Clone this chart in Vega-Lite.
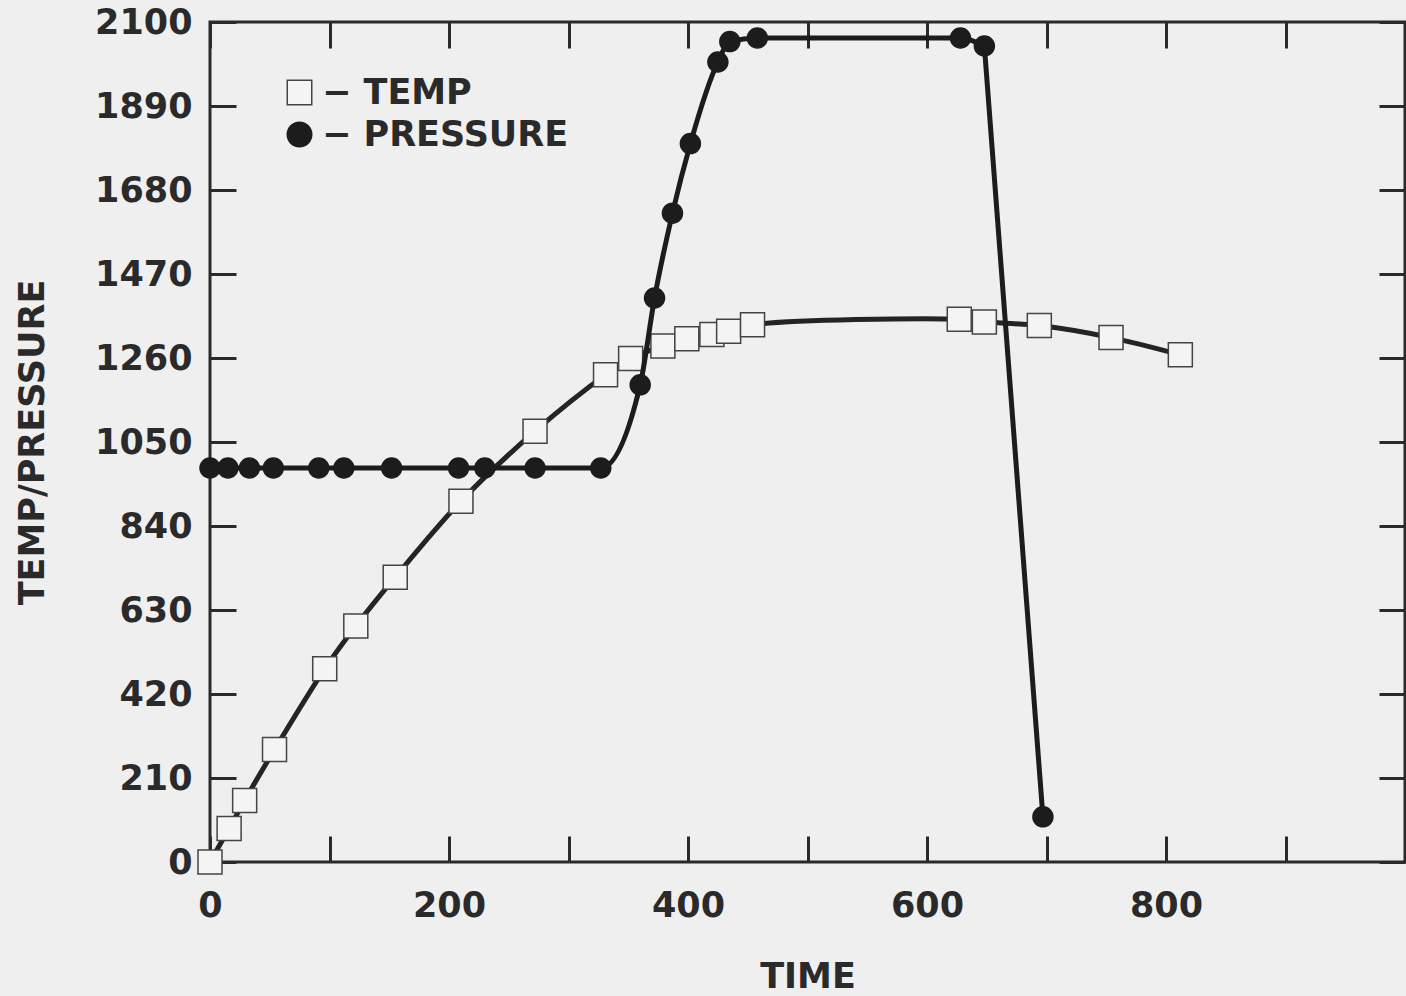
{
  "$schema": "https://vega.github.io/schema/vega-lite/v6.json",
  "autosize": {"type": "none"},
  "padding": {"left": 210, "top": 22, "right": 1, "bottom": 134},
  "width": 1195,
  "height": 840,
  "background": "#efefef",
  "config": {
    "view": {"stroke": "#2a2a2a", "strokeWidth": 3},
    "font": "DejaVu Sans",
    "axis": {
      "domain": false,
      "grid": false,
      "tickColor": "#2a2a2a",
      "tickWidth": 3,
      "tickSize": -26,
      "labelFont": "DejaVu Sans",
      "labelFontWeight": "bold",
      "labelFontSize": 35,
      "labelColor": "#2a2a2a",
      "titleFont": "DejaVu Sans",
      "titleFontWeight": "bold",
      "titleFontSize": 35,
      "titleColor": "#2a2a2a"
    },
    "legend": {
      "title": null,
      "labelFont": "DejaVu Sans",
      "labelFontWeight": "bold",
      "labelFontSize": 35,
      "labelColor": "#2a2a2a",
      "labelLimit": 500,
      "symbolSize": 600,
      "symbolStrokeWidth": 1.5,
      "rowPadding": 6,
      "labelOffset": 5
    }
  },
  "data": {
    "values": [
      {"series": "TEMP", "time": 0, "value": 0},
      {"series": "TEMP", "time": 16, "value": 84},
      {"series": "TEMP", "time": 29, "value": 154},
      {"series": "TEMP", "time": 54, "value": 281},
      {"series": "TEMP", "time": 96, "value": 483},
      {"series": "TEMP", "time": 122, "value": 590},
      {"series": "TEMP", "time": 155, "value": 712},
      {"series": "TEMP", "time": 210, "value": 902},
      {"series": "TEMP", "time": 272, "value": 1077},
      {"series": "TEMP", "time": 331, "value": 1218},
      {"series": "TEMP", "time": 352, "value": 1259},
      {"series": "TEMP", "time": 379, "value": 1290},
      {"series": "TEMP", "time": 399, "value": 1308},
      {"series": "TEMP", "time": 420, "value": 1319},
      {"series": "TEMP", "time": 434, "value": 1327},
      {"series": "TEMP", "time": 454, "value": 1343},
      {"series": "TEMP", "time": 627, "value": 1357},
      {"series": "TEMP", "time": 648, "value": 1350},
      {"series": "TEMP", "time": 694, "value": 1341},
      {"series": "TEMP", "time": 754, "value": 1311},
      {"series": "TEMP", "time": 812, "value": 1268},
      {"series": "PRESSURE", "time": 0, "value": 985},
      {"series": "PRESSURE", "time": 15, "value": 985},
      {"series": "PRESSURE", "time": 33, "value": 985},
      {"series": "PRESSURE", "time": 53, "value": 985},
      {"series": "PRESSURE", "time": 91, "value": 985},
      {"series": "PRESSURE", "time": 112, "value": 985},
      {"series": "PRESSURE", "time": 152, "value": 985},
      {"series": "PRESSURE", "time": 208, "value": 985},
      {"series": "PRESSURE", "time": 230, "value": 985},
      {"series": "PRESSURE", "time": 272, "value": 985},
      {"series": "PRESSURE", "time": 327, "value": 985},
      {"series": "PRESSURE", "time": 360, "value": 1193},
      {"series": "PRESSURE", "time": 372, "value": 1410},
      {"series": "PRESSURE", "time": 387, "value": 1622},
      {"series": "PRESSURE", "time": 402, "value": 1796},
      {"series": "PRESSURE", "time": 425, "value": 2000},
      {"series": "PRESSURE", "time": 435, "value": 2051},
      {"series": "PRESSURE", "time": 458, "value": 2060},
      {"series": "PRESSURE", "time": 628, "value": 2060},
      {"series": "PRESSURE", "time": 648, "value": 2040},
      {"series": "PRESSURE", "time": 697, "value": 113}
    ]
  },
  "layer": [
    {
      "transform": [{"filter": "datum.series === 'TEMP'"}],
      "mark": {"type": "line", "interpolate": "catmull-rom", "color": "#242424", "strokeWidth": 5},
      "encoding": {
        "x": {
          "field": "time", "type": "quantitative",
          "scale": {"domain": [0, 1000], "nice": false},
          "axis": {
            "orient": "bottom", "title": "TIME",
            "values": [0, 100, 200, 300, 400, 500, 600, 700, 800, 900, 1000],
            "labelExpr": "datum.value % 200 === 0 && datum.value < 1000 ? datum.label : ''",
            "labelPadding": 52, "titlePadding": 36, "labelFlush": false
          }
        },
        "y": {
          "field": "value", "type": "quantitative",
          "scale": {"domain": [0, 2100], "nice": false},
          "axis": {
            "orient": "left", "title": "TEMP/PRESSURE",
            "values": [0, 210, 420, 630, 840, 1050, 1260, 1470, 1680, 1890, 2100],
            "format": "d",
            "labelPadding": 44, "titlePadding": 44, "labelFlush": false
          }
        }
      }
    },
    {
      "transform": [{"filter": "datum.series === 'TEMP'"}],
      "mark": {"type": "point", "filled": false, "opacity": 1, "strokeWidth": 1.5},
      "encoding": {
        "x": {"field": "time", "type": "quantitative", "axis": null},
        "y": {"field": "value", "type": "quantitative", "axis": null},
        "shape": {
          "field": "series", "type": "nominal",
          "scale": {"domain": ["TEMP", "PRESSURE"], "range": ["square", "circle"]},
          "legend": {"orient": "none", "legendX": 72, "legendY": 53, "labelExpr": "'\u2212 ' + datum.label"}
        },
        "fill": {
          "field": "series", "type": "nominal",
          "scale": {"domain": ["TEMP", "PRESSURE"], "range": ["#f4f4f4", "#1c1c1c"]},
          "legend": {"orient": "none", "legendX": 72, "legendY": 53, "labelExpr": "'\u2212 ' + datum.label"}
        },
        "stroke": {
          "field": "series", "type": "nominal",
          "scale": {"domain": ["TEMP", "PRESSURE"], "range": ["#444444", "#1c1c1c"]},
          "legend": {"orient": "none", "legendX": 72, "legendY": 53, "labelExpr": "'\u2212 ' + datum.label"}
        },
        "size": {"value": 576}
      }
    },
    {
      "transform": [{"filter": "datum.series === 'PRESSURE' && datum.time <= 648"}],
      "mark": {"type": "line", "interpolate": "monotone", "color": "#1c1c1c", "strokeWidth": 5},
      "encoding": {
        "x": {
          "field": "time", "type": "quantitative",
          "axis": {"orient": "top", "title": null, "labels": false,
            "values": [0, 100, 200, 300, 400, 500, 600, 700, 800, 900, 1000]}
        },
        "y": {
          "field": "value", "type": "quantitative",
          "axis": {"orient": "right", "title": null, "labels": false,
            "values": [0, 210, 420, 630, 840, 1050, 1260, 1470, 1680, 1890, 2100]}
        }
      }
    },
    {
      "transform": [{"filter": "datum.series === 'PRESSURE' && datum.time >= 648"}],
      "mark": {"type": "line", "interpolate": "linear", "color": "#1c1c1c", "strokeWidth": 5},
      "encoding": {
        "x": {"field": "time", "type": "quantitative", "axis": null},
        "y": {"field": "value", "type": "quantitative", "axis": null}
      }
    },
    {
      "transform": [{"filter": "datum.series === 'PRESSURE'"}],
      "mark": {"type": "point", "filled": true, "opacity": 1, "strokeWidth": 1.5},
      "encoding": {
        "x": {"field": "time", "type": "quantitative", "axis": null},
        "y": {"field": "value", "type": "quantitative", "axis": null},
        "shape": {"field": "series", "type": "nominal",
          "legend": {"orient": "none", "legendX": 72, "legendY": 53, "labelExpr": "'\u2212 ' + datum.label"}},
        "fill": {"field": "series", "type": "nominal",
          "legend": {"orient": "none", "legendX": 72, "legendY": 53, "labelExpr": "'\u2212 ' + datum.label"}},
        "stroke": {"field": "series", "type": "nominal",
          "legend": {"orient": "none", "legendX": 72, "legendY": 53, "labelExpr": "'\u2212 ' + datum.label"}},
        "size": {"value": 400}
      }
    }
  ],
  "resolve": {"axis": {"x": "independent", "y": "independent"}}
}
